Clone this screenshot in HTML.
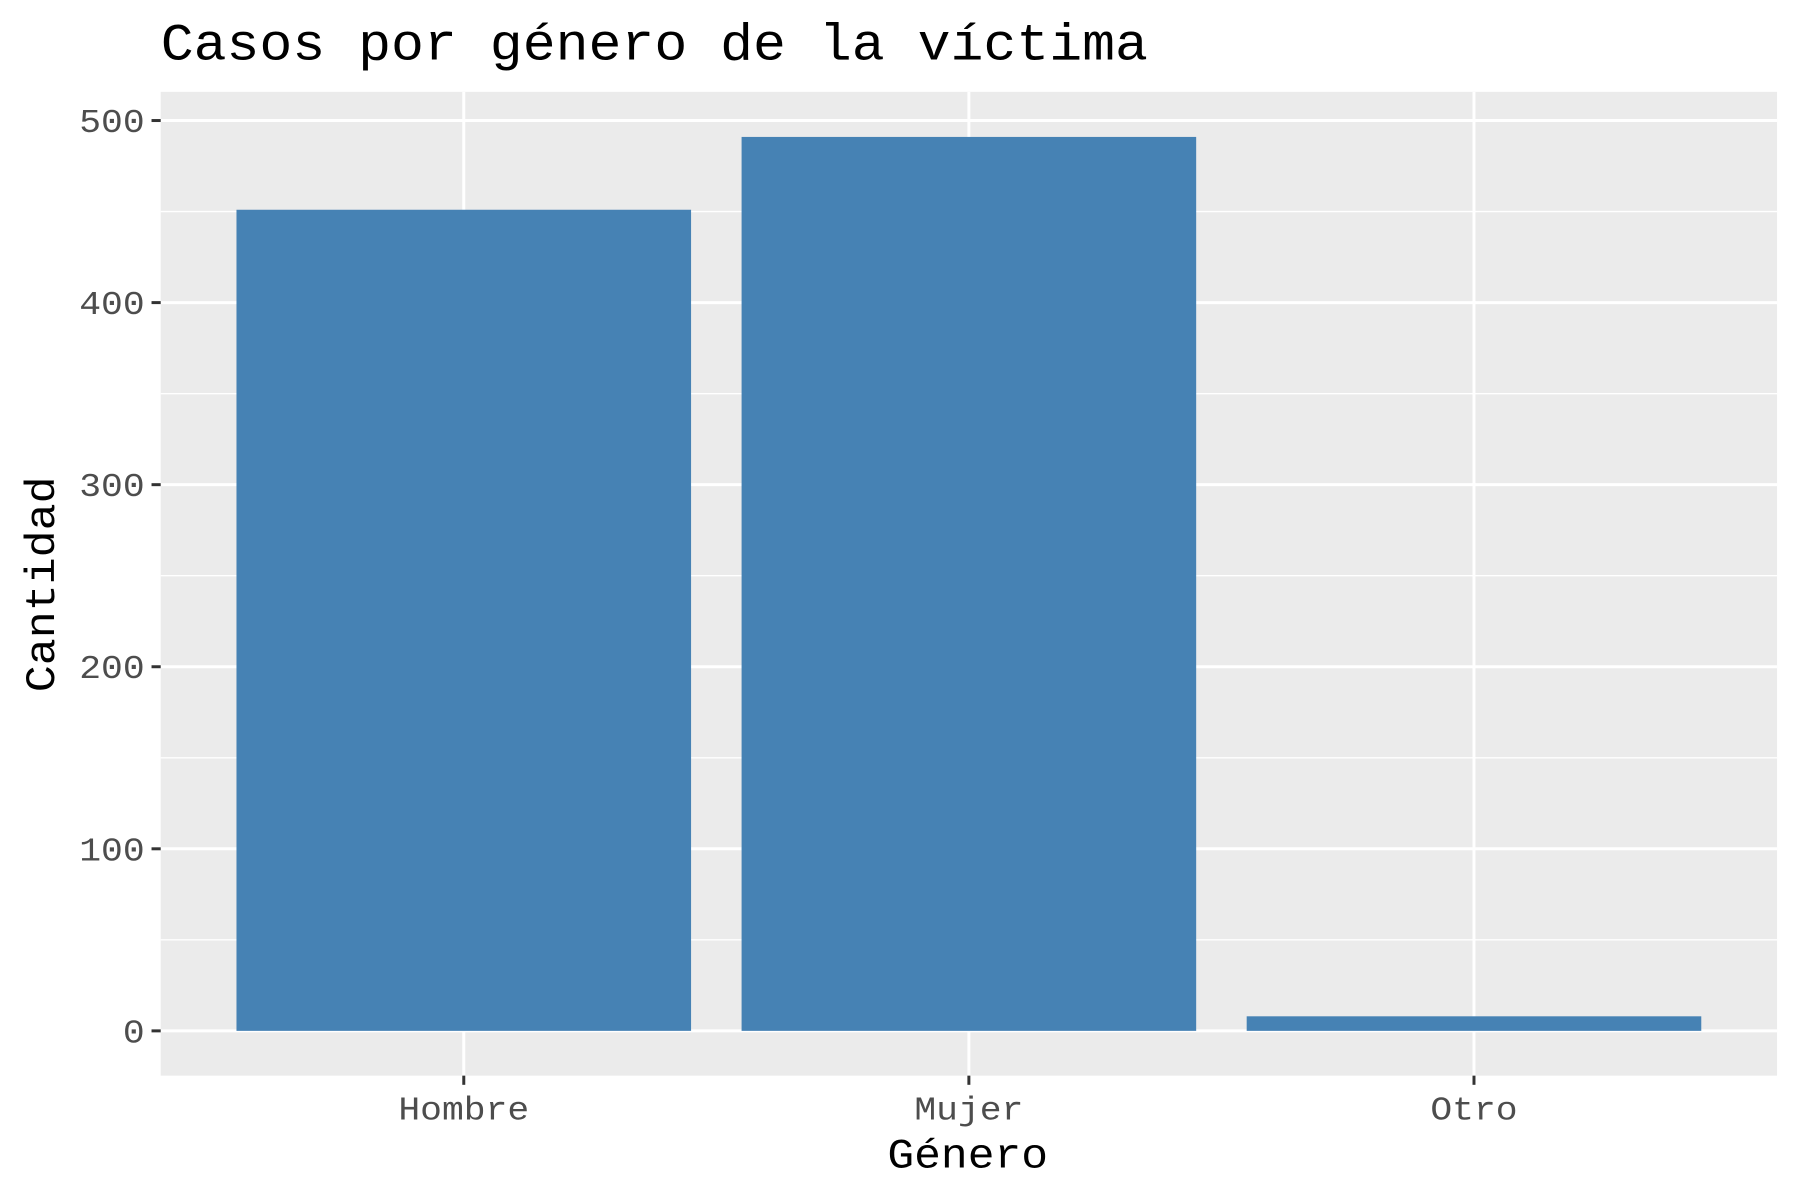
<!DOCTYPE html>
<html><head><meta charset="utf-8"><style>
html,body{margin:0;padding:0;background:#fff;}
svg{display:block;font-family:"Liberation Mono","DejaVu Sans Mono",monospace;}
</style></head><body>
<svg id="chart" width="1800" height="1200" viewBox="0 0 1568 1045.33">
<text x="140" y="52" font-size="45" textLength="860" lengthAdjust="spacingAndGlyphs" fill="#000">Casos por género de la víctima</text>
<rect x="140" y="80" width="1408" height="857" fill="#ebebeb"/>
<g id="grid"></g>
<g id="bars"></g>
<g id="axes"></g>
<text x="773" y="1017" font-size="36" textLength="140" lengthAdjust="spacingAndGlyphs" fill="#000">Género</text>
<text transform="translate(47,603) rotate(-90)" font-size="36" textLength="188" lengthAdjust="spacingAndGlyphs" fill="#000">Cantidad</text>
</svg>
<script>
const categories = ["Hombre", "Mujer", "Otro"];
const values = [451, 491, 8];
const yTicks = [0, 100, 200, 300, 400, 500];
const yMinor = [50, 150, 250, 350, 450];

const NS = "http://www.w3.org/2000/svg";
const panelL = 140, panelR = 1548;
const y0px = 898, y500px = 105;
const charW = 19;
function yScale(v){ return y0px + (y500px - y0px) * v / 500; }
const band = (panelR - panelL) / (categories.length + 0.2);
function xScale(i){ return panelL + band * (i + 0.6); }
function mk(tag, attrs, parent){
  const el = document.createElementNS(NS, tag);
  for (const k in attrs) el.setAttribute(k, attrs[k]);
  parent.appendChild(el);
  return el;
}
const grid = document.getElementById("grid");
const bars = document.getElementById("bars");
const axes = document.getElementById("axes");
yMinor.forEach(v => {
  const l = mk("line", {x1: panelL, x2: panelR, y1: yScale(v), y2: yScale(v), stroke: "#fff", "stroke-width": 1.2}, grid);
  
  
});
yTicks.forEach(v => {
  const y = yScale(v);
  const l = mk("line", {x1: panelL, x2: panelR, y1: y, y2: y, stroke: "#fff", "stroke-width": 2.6}, grid);
  
  
  const t = mk("line", {x1: panelL - 8, x2: panelL, y1: y, y2: y, stroke: "#333", "stroke-width": 2.6}, axes);
  
  
  const s = String(v);
  const tx = mk("text", {x: panelL - 14 - s.length * charW, y: y + 10, "font-size": 29, textLength: s.length * charW, lengthAdjust: "spacingAndGlyphs", fill: "#4d4d4d"}, axes);
  tx.textContent = s;
  
  
});
categories.forEach((c, i) => {
  const x = xScale(i);
  const l = mk("line", {x1: x, x2: x, y1: 80, y2: 937, stroke: "#fff", "stroke-width": 2.6}, grid);
  
  
  const w = band * 0.9;
  const r = mk("rect", {x: x - w / 2, y: yScale(values[i]), width: w, height: yScale(0) - yScale(values[i]), fill: "#4682b4"}, bars);
  
  
  const t = mk("line", {x1: x, x2: x, y1: 937, y2: 945, stroke: "#333", "stroke-width": 2.6}, axes);
  
  
  const tw = c.length * charW;
  const tx = mk("text", {x: x - tw / 2, y: 975, "font-size": 29, textLength: tw, lengthAdjust: "spacingAndGlyphs", fill: "#4d4d4d"}, axes);
  tx.textContent = c;
  
  
});
</script>
</body></html>
